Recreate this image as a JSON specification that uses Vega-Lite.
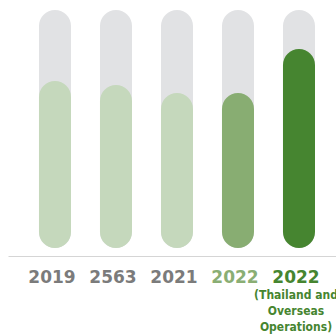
{
  "$schema": "https://vega.github.io/schema/vega-lite/v6.json",
  "width": 328,
  "height": 256,
  "autosize": "none",
  "padding": {"left": 8, "top": 0, "right": 0, "bottom": 78},
  "background": "white",
  "config": {"view": {"stroke": null}},
  "data": {
    "values": [
      {"key": "2019", "full": 100, "value": 70.2, "tone": "past"},
      {"key": "2563", "full": 100, "value": 68.5, "tone": "past"},
      {"key": "2021", "full": 100, "value": 65.1, "tone": "past"},
      {"key": "2022", "full": 100, "value": 65.1, "tone": "thailand"},
      {"key": "2022T", "full": 100, "value": 83.6, "tone": "all"}
    ]
  },
  "layer": [
    {
      "mark": {"type": "bar", "cornerRadius": 16, "color": "#e1e2e4"},
      "encoding": {
        "x": {
          "field": "key", "type": "nominal", "sort": null,
          "scale": {"paddingInner": 0.475, "paddingOuter": 0.426, "align": 0.596},
          "axis": {
            "orient": "bottom", "title": null, "domain": true, "domainColor": "#d5d5d5", "domainWidth": 1,
            "ticks": false, "tickSize": 0, "labelPadding": 13, "labelFont": "DejaVu Sans", "labelFontWeight": "bold",
            "labelFontSize": 17, "labelAngle": 0, "labelOverlap": false, "labelBound": false, "labelOffset": -3,
            "labelExpr": "substring(datum.value,0,4)",
            "labelColor": {"condition": [{"test": "datum.value==='2022T'", "value": "#468530"}, {"test": "datum.value==='2022'", "value": "#8aae74"}], "value": "#7b7b7b"}
          }
        },
        "y": {"field": "full", "type": "quantitative", "scale": {"domain": [-3.36, 104.2], "nice": false, "zero": false}, "axis": null},
        "y2": {"datum": 0}
      }
    },
    {
      "mark": {"type": "bar", "cornerRadius": 16},
      "encoding": {
        "x": {
          "field": "key", "type": "nominal", "sort": null,
          "axis": {
            "orient": "bottom", "title": null, "domain": false, "ticks": false, "tickSize": 0, "labelPadding": 33,
            "labelFont": "DejaVu Sans Condensed", "labelFontWeight": "bold", "labelFontSize": 12, "labelColor": "#468530",
            "labelAngle": 0, "labelLineHeight": 16, "labelOverlap": false, "labelBound": false, "labelOffset": -3,
            "labelExpr": "datum.value==='2022T' ? ['(Thailand and','Overseas','Operations)'] : ''"
          }
        },
        "y": {"field": "value", "type": "quantitative", "axis": null},
        "y2": {"datum": 0},
        "color": {"field": "tone", "type": "nominal", "scale": {"domain": ["past", "thailand", "all"], "range": ["#c5d8bc", "#88ad72", "#468530"]}, "legend": null}
      }
    }
  ],
  "resolve": {"axis": {"x": "independent"}}
}
